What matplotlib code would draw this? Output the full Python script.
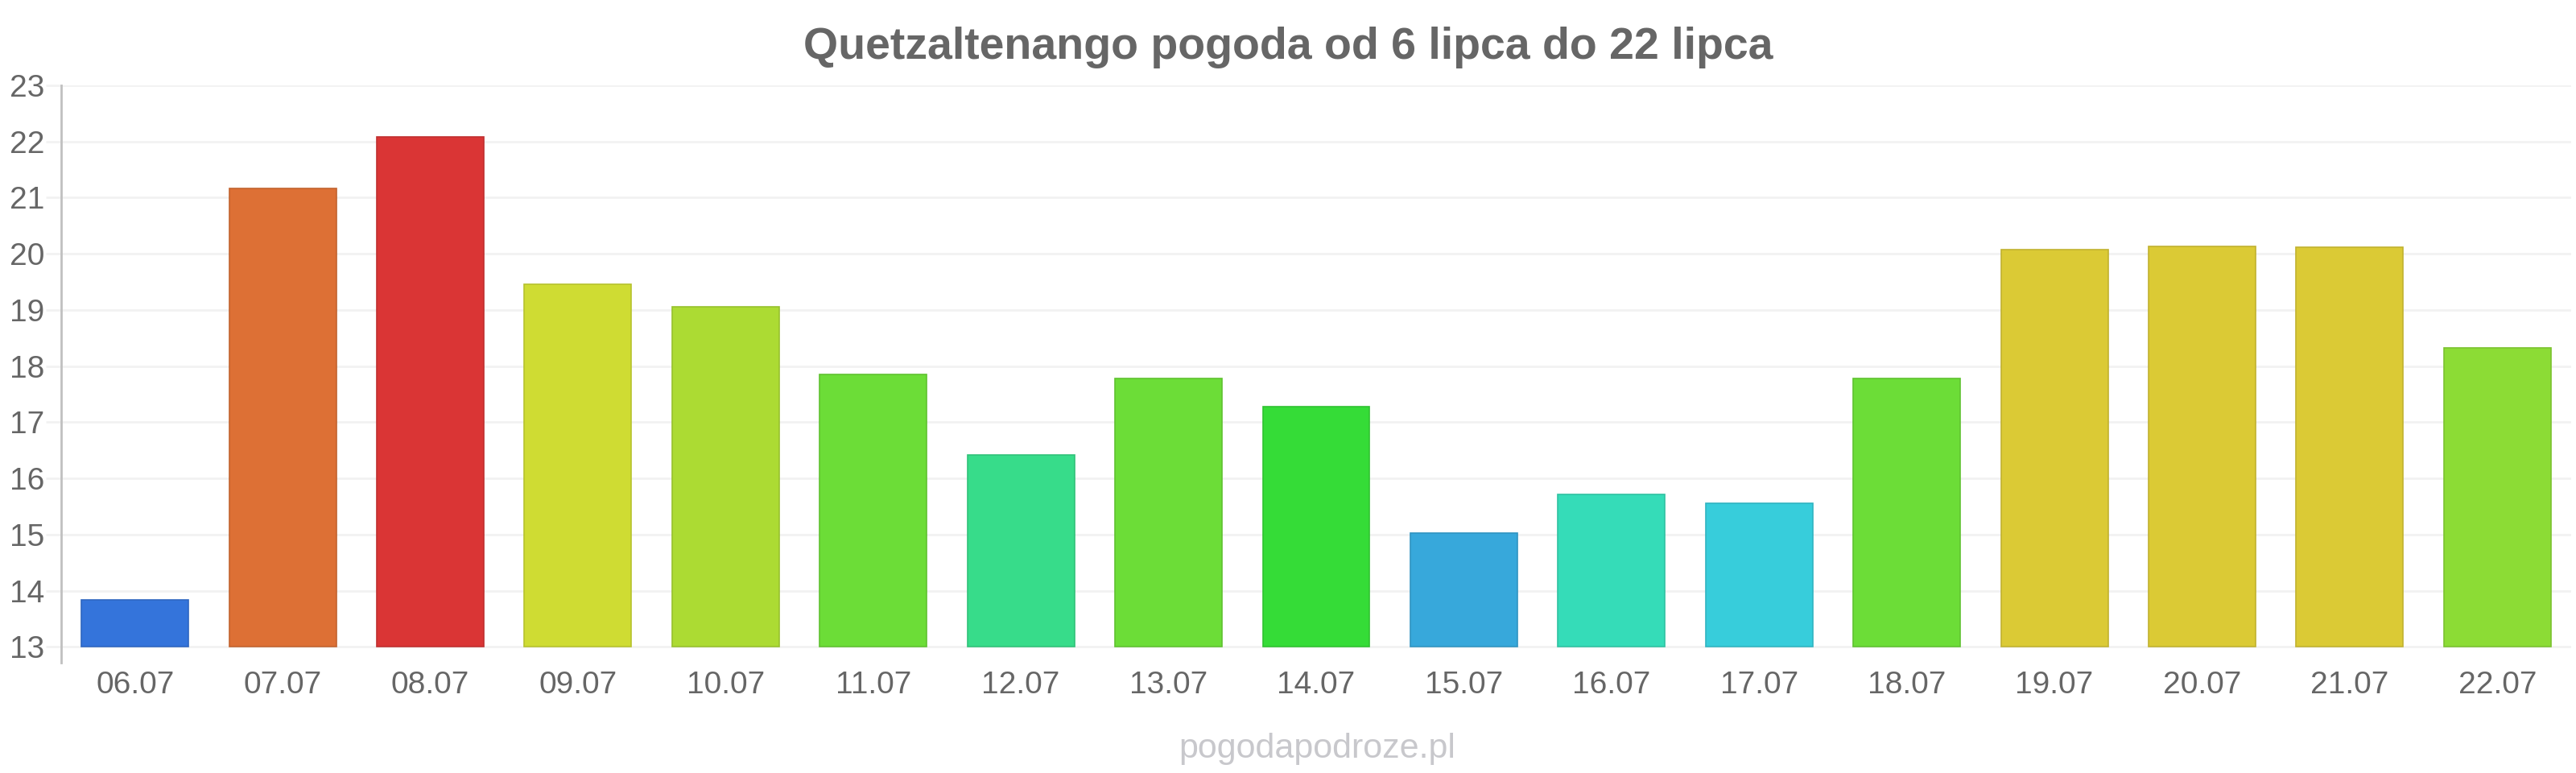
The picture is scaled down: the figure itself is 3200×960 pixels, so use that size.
import matplotlib
matplotlib.use("Agg")
import matplotlib.pyplot as plt
from matplotlib.colors import to_rgb

plt.rcParams['font.family'] = ['Liberation Sans', 'DejaVu Sans']

title = "Quetzaltenango pogoda od 6 lipca do 22 lipca"
dates = ["06.07", "07.07", "08.07", "09.07", "10.07", "11.07", "12.07", "13.07", "14.07",
         "15.07", "16.07", "17.07", "18.07", "19.07", "20.07", "21.07", "22.07"]
temps = [13.84, 21.17, 22.08, 19.46, 19.06, 17.86, 16.42, 17.78, 17.28,
         15.03, 15.72, 15.56, 17.78, 20.07, 20.13, 20.12, 18.33]
colors = ["#3474db", "#dd7035", "#da3535", "#cfdc33", "#acdb33", "#6cdd37", "#37dc8a",
          "#6cdd37", "#35dc37", "#37a8db", "#35dcb8", "#37cddb", "#6cdd37", "#dbca35",
          "#dbca35", "#dbca35", "#8cdc35"]
yticks = [13, 14, 15, 16, 17, 18, 19, 20, 21, 22, 23]
baseline = 13
watermark = "pogodapodroze.pl"

fig = plt.figure(figsize=(32, 9.6), dpi=100)
ax = fig.add_axes([76/3200, 1 - 823/960, (3194 - 76)/3200, (823 - 106)/960])

x = list(range(len(dates)))
heights = [t - baseline for t in temps]
edges = [tuple(c * 0.88 for c in to_rgb(col)) for col in colors]
ax.bar(x, heights, bottom=baseline, width=0.725, color=colors, edgecolor=edges,
       linewidth=1.2, zorder=3)

ax.set_xlim(-0.5, len(dates) - 0.5)
ax.set_ylim(12.72, 23)
ax.set_yticks(yticks)
ax.set_yticklabels([str(v) for v in yticks])
ax.set_xticks(x)
ax.set_xticklabels(dates)

ax.grid(axis='y', color='#f2f2f2', linewidth=2, zorder=0)
ax.set_axisbelow(True)
for s in ['top', 'right', 'bottom']:
    ax.spines[s].set_visible(False)
ax.spines['left'].set_color('#c0c0c0')
ax.spines['left'].set_linewidth(2)

ax.tick_params(axis='y', length=14, width=2, color='#f2f2f2', labelsize=28,
               labelcolor='#666666', pad=1)
ax.tick_params(axis='x', length=0, labelsize=28, labelcolor='#666666', pad=7)

fig.text(0.5, 1 - 73/960, title, ha='center', va='baseline', fontsize=40,
         fontweight='bold', color='#666666')
fig.text(1636/3200, 1 - 941/960, watermark, ha='center', va='baseline', fontsize=31,
         color='#c8c8cc')

fig.savefig("out.png", dpi=100, facecolor='white')
